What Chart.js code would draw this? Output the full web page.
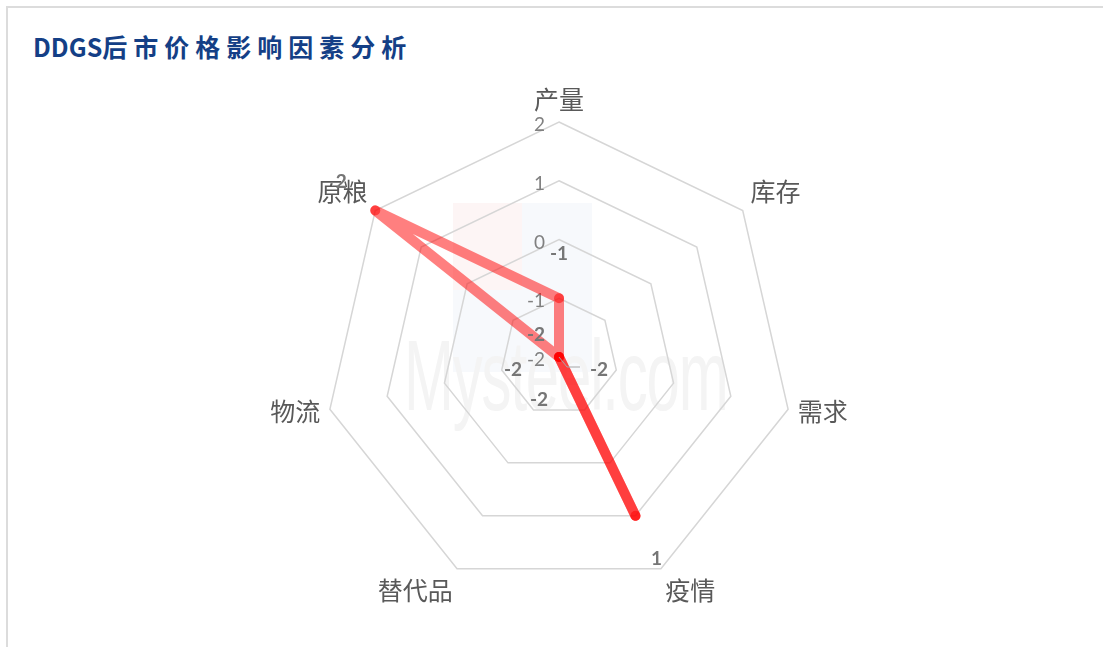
<!DOCTYPE html>
<html>
<head>
<meta charset="utf-8">
<script src="https://cdn.jsdelivr.net/npm/chart.js@4.4.1/dist/chart.umd.min.js"></script>
<style>
  html, body { margin: 0; padding: 0; background: #fff; width: 1103px; height: 647px; overflow: hidden; }
  #frame { position: absolute; left: 6px; top: 6px; width: 1120px; height: 660px; border-top: 2px solid #dcdcdc; border-left: 2px solid #dcdcdc; }
  #title { position: absolute; left: 33px; top: 29px; font: bold 25px "Noto Sans CJK SC"; color: #143f86; line-height: 34px; white-space: nowrap; }
  #title .cn { letter-spacing: 6px; }
  .mark { position: absolute; }
  #markText { left: 404px; top: 318px; font: 100px "Liberation Sans"; color: #f4f4f4; transform: scaleX(0.6); transform-origin: left top; letter-spacing: -2px; }
  #logoRed { left: 453px; top: 203px; width: 69px; height: 87px; background: rgba(225, 60, 60, 0.05); }
  #logoBlue1 { left: 522px; top: 203px; width: 70px; height: 87px; background: rgba(40, 80, 160, 0.035); }
  #logoBlue2 { left: 453px; top: 290px; width: 139px; height: 82px; background: rgba(40, 80, 160, 0.035); }
  canvas { position: absolute; left: 0; top: 0; }
</style>
</head>
<body>
<div id="frame"></div>
<div class="mark" id="logoRed"></div>
<div class="mark" id="logoBlue1"></div>
<div class="mark" id="logoBlue2"></div>
<div class="mark" id="markText">Mysteel.com</div>
<div id="title">DDGS<span class="cn">后市价格影响因素分析</span></div>
<canvas id="radarChart" width="1103" height="647"></canvas>
<script>
// factors and their scores
var factors = ['产量', '库存', '需求', '疫情', '替代品', '物流', '原粮'];
var scores = [-1, -2, -2, 1, -2, -2, 2];
var tickValues = [2, 1, 0, -1, -2];

// where each value label sits relative to its point (moved by hand in the original)
var labelShift = [[0, -44], [40, 13], [-23, -22], [21, 43], [-20, 43], [-46, 13], [-34, -29]];

// the original draws every segment on its own, so 需求-疫情 and 疫情-替代品 overlap;
// a second pass over just those points gives the same darker stroke
var overlapScores = scores.map(function (v, i) { return (i >= 2 && i <= 4) ? v : null; });

var radarText = {
  id: 'radarText',
  beforeDatasetsDraw: function (chart) {
    var scale = chart.scales.r;
    var ctx = chart.ctx;
    ctx.save();
    ctx.textBaseline = 'middle';

    // tick labels, left of the vertical axis
    ctx.font = '19px Lato';
    ctx.fillStyle = '#808080';
    ctx.textAlign = 'right';
    tickValues.forEach(function (v) {
      var d = scale.getDistanceFromCenterForValue(v);
      ctx.fillText(String(v), scale.xCenter - 14, scale.yCenter - d + 3);
    });

    // category labels
    ctx.font = '25px "Noto Sans CJK SC"';
    ctx.fillStyle = '#595959';
    factors.forEach(function (name, i) {
      var angle = scale.getIndexAngle(i);
      var p = scale.getPointPosition(i, scale.drawingArea + 10);
      var s = Math.sin(angle), c = Math.cos(angle);
      ctx.textAlign = Math.abs(s) < 0.1 ? 'center' : (s > 0 ? 'left' : 'right');
      var dy = c > 0.3 ? -13 : (c < -0.3 ? 13 : 0);
      ctx.fillText(name, p.x, p.y + dy);
    });
    ctx.restore();
  },
  afterDatasetsDraw: function (chart) {
    var ctx = chart.ctx;
    var points = chart.getDatasetMeta(0).data;
    ctx.save();

    // small leader line for the 库存 label
    var p1 = points[1];
    ctx.strokeStyle = '#a6a6a6';
    ctx.lineWidth = 1;
    ctx.beginPath();
    ctx.moveTo(p1.x, p1.y);
    ctx.lineTo(p1.x + 8, p1.y + 10);
    ctx.lineTo(p1.x + 21, p1.y + 10);
    ctx.stroke();

    ctx.font = 'bold 19px Lato';
    ctx.fillStyle = '#767676';
    ctx.textAlign = 'center';
    ctx.textBaseline = 'middle';
    points.forEach(function (pt, i) {
      ctx.fillText(String(scores[i]), pt.x + labelShift[i][0], pt.y + labelShift[i][1]);
    });
    ctx.restore();
  }
};

new Chart(document.getElementById('radarChart'), {
  type: 'radar',
  data: {
    labels: factors,
    datasets: [{
      label: 'DDGS',
      data: scores,
      fill: false,
      borderColor: 'rgba(255, 0, 0, 0.5)',
      borderWidth: 10,
      borderJoinStyle: 'round',
      borderCapStyle: 'round',
      pointRadius: 5,
      pointBorderWidth: 0,
      pointBackgroundColor: 'rgba(255, 0, 0, 0.5)'
    }, {
      label: 'overlap',
      data: overlapScores,
      fill: false,
      spanGaps: false,
      borderColor: 'rgba(255, 0, 0, 0.5)',
      borderWidth: 10,
      borderJoinStyle: 'round',
      borderCapStyle: 'round',
      pointRadius: 0
    }]
  },
  options: {
    responsive: false,
    devicePixelRatio: 1,
    animation: false,
    layout: {
      padding: { top: 122, bottom: 55, left: 324, right: 309 }
    },
    plugins: {
      legend: { display: false },
      tooltip: { enabled: false }
    },
    scales: {
      r: {
        min: -2,
        max: 2,
        ticks: { display: false, stepSize: 1 },
        pointLabels: { display: false },
        angleLines: { display: false },
        grid: { color: '#d6d6d6', lineWidth: 1.5 }
      }
    }
  },
  plugins: [radarText]
});
</script>
</body>
</html>
